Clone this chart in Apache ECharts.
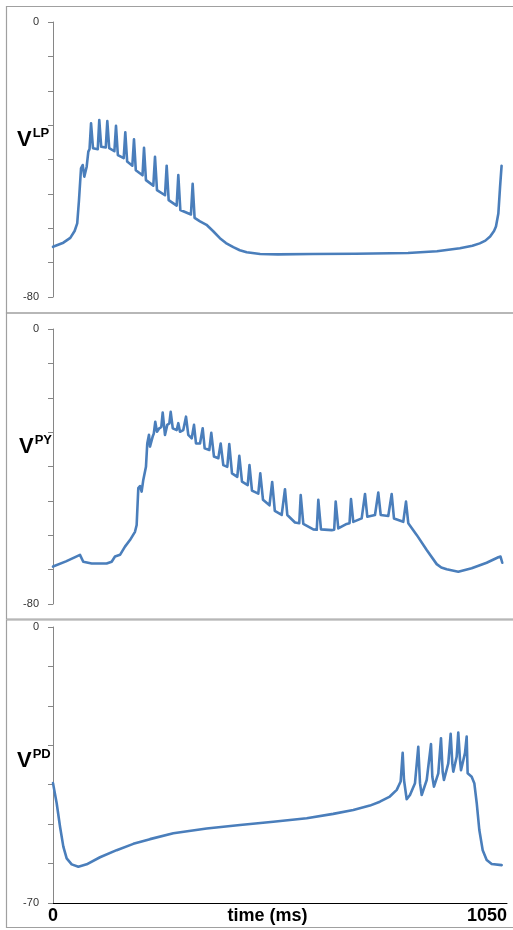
<!DOCTYPE html>
<html>
<head>
<meta charset="utf-8" />
<title>V traces</title>
<script src="https://cdn.jsdelivr.net/npm/echarts@6/dist/echarts.min.js"></script>
<style>
html, body { margin: 0; padding: 0; background: #fff; }
#main { width: 513px; height: 930px; }
</style>
</head>
<body>
<div id="main"></div>
<script type="text/javascript">
// time (ms), voltage (mV)
var vLP = [
    [0,-65.4],[24,-64.2],[40,-62.8],[50,-60.8],[56,-58.6],[60,-52],[64.8,-42.6],[68.7,-41.6],[72.4,-45],
    [77.9,-42.1],[81.7,-37.7],[84.5,-37],[88,-29.5],[92.5,-36.7],
    [103.5,-37],[107,-28.5],[111.5,-36.3],[122,-36.5],[125.6,-28.8],[130,-36.7],
    [142,-37.6],[145.7,-30.2],[150,-38.7],[163.5,-39.6],[167.2,-32.1],[171.5,-40.6],
    [183.5,-41.8],[187.3,-34.1],[191.5,-43.1],[207,-44.6],[210.5,-36.6],[215,-46],
    [232,-47.6],[235.9,-39.2],[240.5,-48.9],[259,-50.4],[262.9,-41.8],[267.5,-51.8],
    [286,-53.4],[289.8,-44.5],[294.5,-54.7],[319,-56],[323,-47.1],[327.5,-57],
    [340,-58],[355,-59],[370,-60.8],[386,-62.9],[400,-64.3],[417,-65.5],[432,-66.4],[448,-67],
    [479,-67.5],[520,-67.6],[600,-67.5],[700,-67.4],[821,-67.2],[888,-66.7],[941,-65.8],
    [970,-65.1],[987,-64.4],[1000,-63.6],[1011,-62.4],[1020,-60.8],[1024.5,-59.5],
    [1030,-55.7],[1034,-47.9],[1037.5,-41.8]
];

var vPY = [
    [0,-69.1],[30,-67.6],[62.4,-65.7],[70,-67.7],[89.5,-68.2],[124,-68.2],[135.7,-67.7],
    [143.4,-66.2],[155,-65.7],[166.5,-63.3],[178,-61.4],[189.6,-59.0],[193.5,-57.0],
    [197.3,-46.3],[201.2,-45.7],[205,-47.3],[208.8,-43.9],[215,-40.1],[218,-33.3],
    [222,-30.8],[224.3,-34.2],[230.5,-31.3],[233,-30.5],[236.5,-27.0],[240.5,-29.9],
    [245.8,-28.9],[250.5,-28.5],[253.7,-24.3],[259,-30.8],[264.3,-27.9],[269,-27.5],
    [272.2,-24.1],[277,-28.9],[286.1,-29.4],[289.8,-27.4],[293.7,-29.9],[301.3,-29.4],
    [304.5,-29.4],[307.6,-25.5],[312.9,-30.8],[320.8,-31.8],[323,-31.8],[326.1,-27.9],
    [330.7,-33.3],[340,-33.3],[343,-33.3],[346.2,-28.9],[350.8,-34.7],[361.5,-35.2],
    [363,-35.3],[366.1,-30.2],[372.3,-37.1],[382.3,-37.6],[384.5,-37.7],[387.8,-33.3],
    [393.9,-39.6],[403.1,-40.1],[404.5,-40.2],[407.7,-33.5],[414,-42.0],[426.2,-43.0],
    [427.7,-43.1],[430.9,-36.9],[437.1,-44.4],[450.3,-45.4],[451.3,-45.5],[454.4,-39.6],
    [460.2,-47.0],[474.8,-47.9],[476,-48],[479.4,-42.0],[485.7,-49.7],[500.7,-51.3],
    [503.5,-51.4],[506.9,-44.5],[513,-52.9],[528.9,-54.1],[533,-54.2],[536.5,-46.6],
    [541.9,-54.1],[559.7,-56.3],[569.5,-56.5],[572.9,-48.3],[578.9,-56.7],[602,-58.3],
    [610,-58.4],[613.6,-49.7],[619.8,-58.3],[644.6,-58.5],[650.3,-58.4],[653.8,-50.2],
    [659.8,-58.0],[679.2,-56.7],[685.8,-56.5],[689.2,-49.5],[694.5,-56.1],[713.9,-55.1],
    [718.2,-55.0],[721.6,-48.0],[726.9,-54.6],[744.7,-54.1],[749,-54.1],[752.3,-47.6],
    [757.9,-54.1],[775.4,-54.4],[780,-54.5],[783.3,-48.0],[788.6,-55.1],[810.1,-56.1],
    [813,-56.2],[816.4,-50.2],[821.7,-56.5],[841.1,-59.9],[864.3,-64.3],[887.4,-68.4],
    [898,-69.4],[910.5,-69.9],[937.3,-70.6],[968.3,-69.6],[1003,-68.0],[1029.9,-66.4],
    [1035,-66.2],[1039.1,-68.0]
];

var vPD = [
    [0,-39.6],[2.3,-39.6],[8.5,-44.7],[16.2,-50.6],[23.9,-55.7],[31.6,-58.7],[43.2,-60.2],
    [58.6,-60.8],[77.9,-60.2],[108.7,-58.4],[147.2,-56.6],[185.8,-55.0],[224.3,-53.8],
    [278.3,-52.3],[355.4,-51.1],[432.5,-50.2],[509.5,-49.4],[586.7,-48.5],[648,-47.4],
    [694.5,-46.4],[733,-45.3],[756,-44.3],[779,-43.0],[795,-41.3],[804,-39.2],
    [808.7,-31.9],[811.8,-38.8],[818,-43.7],[825.6,-42.6],[837.2,-39.6],
    [844.8,-30.4],[848.8,-39.6],[852.7,-42.6],[864.3,-38.8],
    [874.2,-29.7],[877.3,-38.0],[881.1,-40.5],[891.1,-37.1],
    [897.3,-28.2],[901.2,-36.7],[904.2,-38.8],[914.2,-34.6],
    [919.7,-27.1],[923.5,-34.6],[925.8,-36.7],[933.6,-32.9],
    [937.3,-26.8],[941.3,-33.7],[943.6,-36.3],[952.8,-32.0],
    [956.7,-27.8],[959,-37.1],[968.3,-38.0],[974.4,-39.6],[980,-44.7],[986,-51.5],
    [993.8,-56.6],[1003,-59.1],[1014.6,-60.1],[1037.7,-60.4]
];

var yMins = [-80, -80, -70];
var tMax = 1050;
var names = ['LP', 'PY', 'PD'];

var chart = echarts.init(document.getElementById('main'));

var tops = [22, 329, 627];
var heights = [275, 275, 276];
var nameTops = [127, 434, 748];
var nameLefts = [17, 19, 17];

function yAxisFor(i) {
    return {
        type: 'value', gridIndex: i, min: yMins[i], max: 0, interval: 10,
        splitLine: { show: false },
        axisLine: { show: true, lineStyle: { color: '#868686', width: 1 } },
        axisTick: { show: true, length: 5, lineStyle: { color: '#868686' } },
        axisLabel: {
            margin: 14, fontSize: 11, color: '#333', fontFamily: 'Liberation Sans',
            formatter: function (v) { return (v === 0 || v === yMins[i]) ? String(v) : ''; }
        }
    };
}

var option = {
    animation: false,
    backgroundColor: '#fff',
    grid: tops.map(function (t, i) {
        return { left: 53, width: 454, top: t, height: heights[i], containLabel: false, outerBoundsMode: 'none' };
    }),
    title: names.map(function (n, i) {
        return {
            text: '{v|V}{s|' + n + '}', left: nameLefts[i], top: nameTops[i], padding: 0,
            textStyle: {
                rich: {
                    v: { fontSize: 22, fontWeight: 'bold', color: '#000', fontFamily: 'Liberation Sans', lineHeight: 26 },
                    s: { fontSize: 13, fontWeight: 'bold', color: '#000', fontFamily: 'Liberation Sans', verticalAlign: 'top', padding: [0, 0, 0, 1] }
                }
            }
        };
    }),
    xAxis: [
        { type: 'value', gridIndex: 0, min: 0, max: tMax, show: false },
        { type: 'value', gridIndex: 1, min: 0, max: tMax, show: false },
        {
            type: 'value', gridIndex: 2, min: 0, max: tMax, interval: tMax,
            splitLine: { show: false },
            axisLine: { show: true, onZero: false, lineStyle: { color: '#000', width: 1 } },
            axisTick: { show: false },
            axisLabel: {
                margin: 4, fontSize: 18, fontWeight: 'bold', color: '#000', fontFamily: 'Liberation Sans',
                alignMaxLabel: 'right',
                formatter: function (v) { return String(v); }
            },
            name: 'time (ms)', nameLocation: 'middle', nameGap: 4, nameMoveOverlap: false,
            nameTextStyle: {
                fontSize: 18, fontWeight: 'bold', color: '#000', fontFamily: 'Liberation Sans',
                verticalAlign: 'top', padding: [0, 25, 0, 0]
            }
        }
    ],
    yAxis: [yAxisFor(0), yAxisFor(1), yAxisFor(2)],
    graphic: [
        { type: 'rect', shape: { x: 6.5, y: 6.5, width: 510, height: 306.5 }, style: { fill: 'none', stroke: '#a0a0a0', lineWidth: 1.2 } },
        { type: 'rect', shape: { x: 6.5, y: 313, width: 510, height: 306 }, style: { fill: 'none', stroke: '#a0a0a0', lineWidth: 1.2 } },
        { type: 'rect', shape: { x: 6.5, y: 620, width: 510, height: 307.5 }, style: { fill: 'none', stroke: '#a0a0a0', lineWidth: 1.2 } }
    ],
    series: [vLP, vPY, vPD].map(function (d, i) {
        return {
            type: 'line', xAxisIndex: i, yAxisIndex: i, data: d,
            showSymbol: false, symbol: 'none',
            lineStyle: { color: '#4a7ebb', width: 2.6, join: 'round', cap: 'round' }
        };
    })
};

chart.setOption(option);
</script>
</body>
</html>
